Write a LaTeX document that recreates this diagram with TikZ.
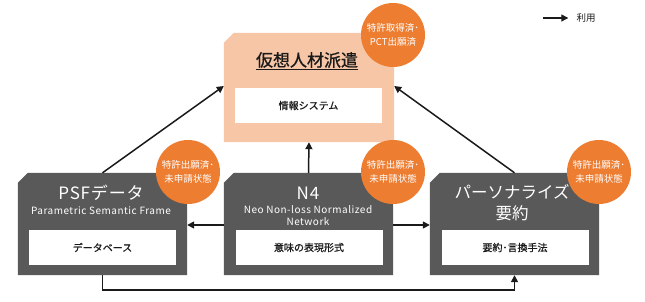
\documentclass[tikz,border=0pt]{standalone}
\usepackage{fontspec}
\setmainfont{Noto Sans CJK JP}
\newfontfamily\medfont{Noto Sans CJK JP}[FakeBold=0.8]
\newfontfamily\spfont{Noto Sans CJK JP}[LetterSpace=5]
\usetikzlibrary{arrows.meta}
\definecolor{boxgray}{HTML}{595959}
\definecolor{peach}{HTML}{F7C6A6}
\definecolor{orng}{HTML}{ED7D31}
\definecolor{ink}{HTML}{1A1A1A}
\newcommand\chamf[2]{\fill[#2] ([yshift=-10pt]#1.north west) -- ([xshift=10pt]#1.north west) -- (#1.north east) -- (#1.south east) -- (#1.south west) -- cycle;}
\begin{document}
\begin{tikzpicture}[x=1pt,y=1pt,
  mainbox/.style={minimum width=169pt, minimum height=102pt, inner sep=0pt},
  innerbox/.style={fill=white, minimum width=147pt, minimum height=35pt, inner sep=0pt, text=ink, font=\medfont\fontsize{10}{12}\selectfont},
  badge/.style={circle, fill=orng, minimum size=64pt, inner sep=0pt, text=white, align=center, font=\fontsize{9.5}{14}\selectfont},
  bigtxt/.style={text=white, font=\spfont\fontsize{17}{21}\selectfont, inner sep=0pt, align=center},
  smalltxt/.style={text=white, font=\spfont\fontsize{10}{12}\selectfont, inner sep=0pt, align=center},
  conn/.style={line width=1.5pt, draw=ink, -{Triangle[length=7pt,width=7pt]}}]
\useasboundingbox (0,0) rectangle (645,302);
% main boxes
\node[mainbox, minimum width=170pt, minimum height=109pt] (top) at (309,214.5) {};
\node[mainbox] (psf) at (102.5,78) {};
\node[mainbox] (n4) at (308.5,78) {};
\node[mainbox] (per) at (514.5,78) {};
\chamf{top}{peach}
\chamf{psf}{boxgray}
\chamf{n4}{boxgray}
\chamf{per}{boxgray}
% inner boxes
\node[innerbox] (topin) at (308.5,196.5) {情報システム};
\node[innerbox] (psfin) at (102.5,54.5) {データベース};
\node[innerbox] (n4in) at (309,54.5) {意味の表現形式};
\node[innerbox] (perin) at (515,54.5) {要約･言換手法};
% titles
\node[inner sep=0pt, text=ink, font=\medfont\fontsize{17}{21}\selectfont] (toptitle) at (307,241) {\underline{仮想人材派遣}};
\node[bigtxt] (psft) at (101,109) {PSFデータ};
\node[smalltxt] (psfs) at (101,91) {Parametric Semantic Frame};
\node[bigtxt] (n4t) at (308,109) {N4};
\node[smalltxt] (n4s) at (308,86) {Neo Non-loss Normalized\\Network};
\node[bigtxt, font=\fontsize{16.5}{21}\selectfont] (pert) at (512,99) {パーソナライズ\\要約};
% badges
\node[badge] (b0) at (393,267) {特許取得済･\\PCT出願済};
\node[badge] (b1) at (188,130) {特許出願済･\\未申請状態};
\node[badge] (b2) at (393,130) {特許出願済･\\未申請状態};
\node[badge] (b3) at (599,130) {特許出願済･\\未申請状態};
% connectors
\draw[conn] (psf.north) -- ([yshift=1.5pt]top.west);
\draw[conn] (per.north) -- ([yshift=1.5pt]top.east);
\draw[conn] (n4.north) -- (top.south);
\draw[conn] ([yshift=-1pt]n4.west) -- ([yshift=-1pt]psf.east);
\draw[conn] ([yshift=-1pt]n4.east) -- ([yshift=-1pt]per.west);
\coordinate (bl) at (102.5,12);
\coordinate (br) at (514.5,12);
\draw[conn] (psf.south) -- (bl) -- (br) -- (per.south);
% legend
\node[inner sep=0pt, text=ink, font=\fontsize{9.5}{11}\selectfont] (leg) at (586,284) {利用};
\coordinate (l1) at (543,284);
\draw[conn, line width=1.3pt] (l1) -- ([xshift=-8pt]leg.west);
\end{tikzpicture}
\end{document}
